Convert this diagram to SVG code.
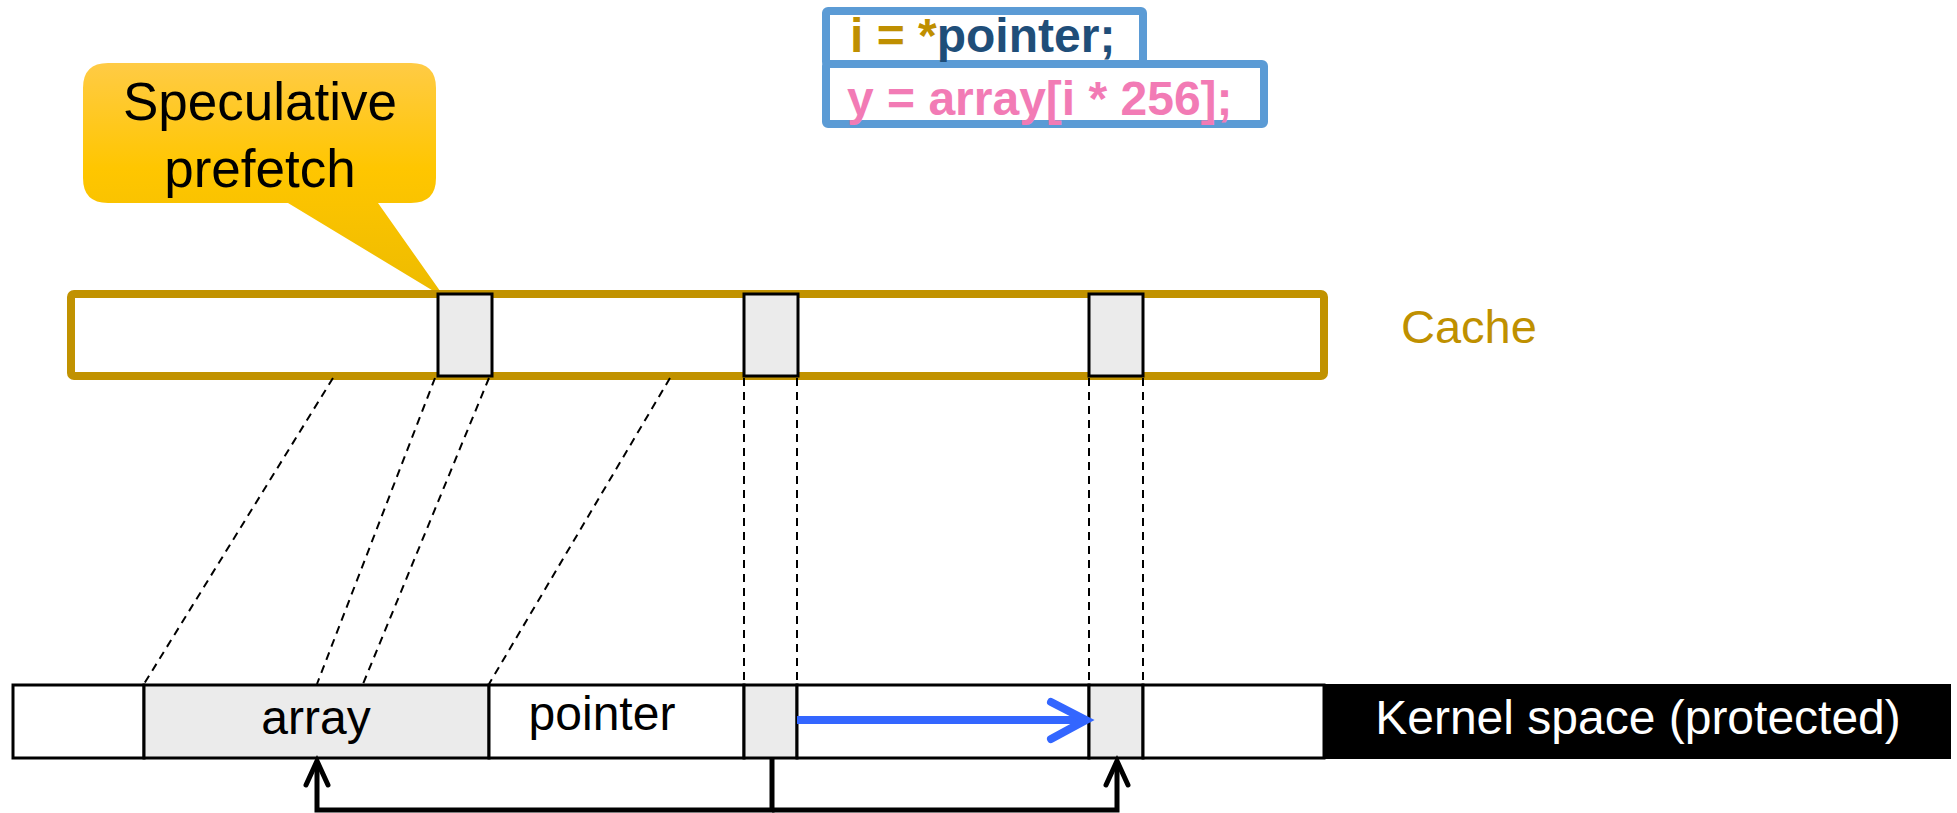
<svg xmlns="http://www.w3.org/2000/svg" width="1957" height="813" viewBox="0 0 1957 813">
  <defs>
    <linearGradient id="calloutFill" x1="0" y1="0" x2="0" y2="1" gradientUnits="objectBoundingBox">
      <stop offset="0" stop-color="#FFCB45"/>
      <stop offset="0.45" stop-color="#FFC600"/>
      <stop offset="1" stop-color="#EDBB00"/>
    </linearGradient>
  </defs>
  <style>
    .sans { font-family: "Liberation Sans", Arial, sans-serif; }
    .cell { stroke: #000; stroke-width: 3; }
    .grey { fill: #EBEBEB; }
    .white { fill: #FFFFFF; }
    .dash { stroke: #000; stroke-width: 2; stroke-dasharray: 8 6; fill: none; }
    .codebox { fill: #FFFFFF; stroke: #5B9BD5; stroke-width: 8; }
    .lbl { font-size: 48px; fill: #000; }
    .link { fill: none; stroke: #000; stroke-width: 5; }
    .head { fill: none; stroke: #000; stroke-width: 5; stroke-linecap: round; stroke-linejoin: miter; }
  </style>

  <rect width="1957" height="813" fill="#FFFFFF"/>

  <!-- source code snippet -->
  <g id="code">
    <rect class="codebox" x="826" y="11" width="317" height="53" rx="2"/>
    <rect class="codebox" x="826" y="64" width="438" height="60" rx="2"/>
    <text class="sans" x="850" y="52" font-size="48" font-weight="bold"><tspan fill="#BF8F00">i = *</tspan><tspan fill="#1F4E79">pointer;</tspan></text>
    <text class="sans" x="847" y="115" font-size="48" font-weight="bold" fill="#F27BB5">y = array[i * 256];</text>
  </g>

  <!-- callout -->
  <g id="callout">
    <path d="M108,63 H411 Q436,63 436,88 V178 Q436,203 411,203 H378 L445,298 L288,203 H108 Q83,203 83,178 V88 Q83,63 108,63 Z" fill="url(#calloutFill)"/>
    <text class="sans" x="260" y="120" font-size="53" text-anchor="middle" fill="#000">Speculative</text>
    <text class="sans" x="260" y="187" font-size="53" text-anchor="middle" fill="#000">prefetch</text>
  </g>

  <!-- cache -->
  <g id="cache">
    <rect x="71" y="294" width="1253" height="82" fill="#FFFFFF" stroke="#C19200" stroke-width="8" rx="3"/>
    <rect class="cell grey" x="438" y="294" width="54" height="82"/>
    <rect class="cell grey" x="744" y="294" width="54" height="82"/>
    <rect class="cell grey" x="1089" y="294" width="54" height="82"/>
    <text class="sans" x="1401" y="343" font-size="47" fill="#BF9000">Cache</text>
  </g>

  <!-- memory layout -->
  <g id="memory">
    <rect class="cell white" x="13" y="685" width="131" height="73"/>
    <rect class="cell grey" x="144" y="685" width="345" height="73"/>
    <rect class="cell white" x="489" y="685" width="255" height="73"/>
    <rect class="cell grey" x="744" y="685" width="53" height="73"/>
    <rect class="cell white" x="797" y="685" width="292" height="73"/>
    <rect class="cell grey" x="1089" y="685" width="54" height="73"/>
    <rect class="cell white" x="1143" y="685" width="181" height="73"/>
    <rect x="1324" y="684" width="627" height="75" fill="#000"/>
    <text class="sans lbl" x="316" y="734" text-anchor="middle">array</text>
    <text class="sans lbl" x="602" y="730" text-anchor="middle">pointer</text>
    <text class="sans" x="1638" y="734" font-size="48" text-anchor="middle" fill="#FFFFFF">Kernel space (protected)</text>
  </g>

  <!-- connectors -->
  <g id="connectors">
    <line class="dash" x1="333" y1="378" x2="144" y2="684"/>
    <line class="dash" x1="435" y1="378" x2="317" y2="684"/>
    <line class="dash" x1="489" y1="378" x2="363" y2="684"/>
    <line class="dash" x1="670" y1="378" x2="489" y2="684"/>
    <line class="dash" x1="744" y1="378" x2="744" y2="684"/>
    <line class="dash" x1="797" y1="378" x2="797" y2="684"/>
    <line class="dash" x1="1089" y1="378" x2="1089" y2="684"/>
    <line class="dash" x1="1143" y1="378" x2="1143" y2="684"/>

    <!-- pointer dereference indexing -->
    <line x1="797" y1="720" x2="1082" y2="720" stroke="#3366FF" stroke-width="8"/>
    <path d="M1051,702 L1086,720 L1051,739" fill="none" stroke="#3366FF" stroke-width="8" stroke-linejoin="miter" stroke-linecap="round"/>

    <!-- index feeds both array lookup and probe -->
    <path class="link" d="M772,759 V810 H317 V762"/>
    <path class="link" d="M772,810 H1117 V762"/>
    <path class="head" d="M306,785 L317,761 L328,785"/>
    <path class="head" d="M1106,785 L1117,761 L1128,785"/>
  </g>
</svg>
